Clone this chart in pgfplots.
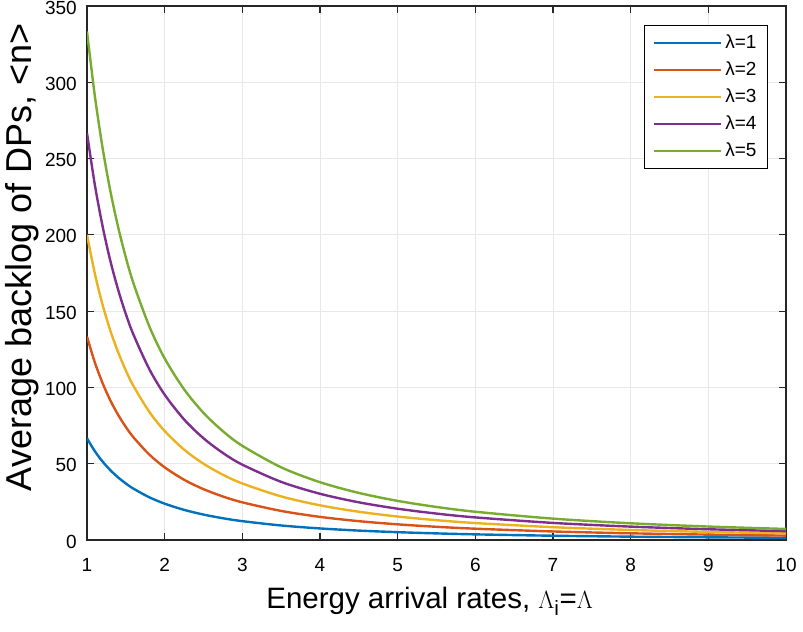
\documentclass[border=0pt]{standalone}
\usepackage{fontspec}
\setmainfont{Liberation Sans}
\usepackage{pgfplots}
\pgfplotsset{compat=1.18}
\usepackage{pgfplotstable}
\definecolor{c1}{rgb}{0,0.447,0.741}
\definecolor{c2}{rgb}{0.85,0.325,0.098}
\definecolor{c3}{rgb}{0.929,0.694,0.125}
\definecolor{c4}{rgb}{0.494,0.184,0.556}
\definecolor{c5}{rgb}{0.466,0.674,0.188}
\pgfplotstableread{
x y1 y2 y3 y4 y5
1 66.67 133.3 200.0 266.7 333.3
1.1 58.27 116.5 174.8 233.1 291.4
1.2 51.44 102.9 154.3 205.8 257.2
1.3 45.78 91.56 137.3 183.1 228.9
1.4 41.05 82.10 123.2 164.2 205.3
1.5 37.04 74.07 111.1 148.1 185.2
1.6 33.60 67.20 100.8 134.4 168.0
1.8 28.06 56.12 84.17 112.2 140.3
2 23.81 47.62 71.43 95.24 119.0
2.25 19.75 39.50 59.26 79.01 98.77
2.5 16.67 33.33 50.00 66.67 83.33
2.75 14.26 28.52 42.78 57.04 71.30
3 12.35 24.69 37.04 49.38 61.73
3.5 9.52 19.05 28.57 38.10 47.62
4 7.58 15.15 22.73 30.30 37.88
4.5 6.17 12.35 18.52 24.69 30.86
5 5.13 10.26 15.38 20.51 25.64
5.5 4.33 8.66 12.99 17.32 21.65
6 3.70 7.41 11.11 14.81 18.52
7 2.80 5.60 8.40 11.20 14.01
8 2.19 4.39 6.58 8.77 10.96
9 1.76 3.53 5.29 7.05 8.82
10 1.45 2.90 4.35 5.80 7.25
}\datatable
\begin{document}
\begin{tikzpicture}
\begin{axis}[
  name=ax,
  scale only axis, width=699pt, height=534pt,
  xmin=1, xmax=10, ymin=0, ymax=350,
  xtick={1,2,...,10}, ytick={0,50,...,350},
  grid=major, grid style={black!9, line width=1pt},
  axis line style={black!85, line width=1.1pt},
  tick style={black!85, line width=1.1pt},
  tick align=inside, major tick length=7pt,
  /pgf/number format/assume math mode=true,
  ticklabel style={font=\fontsize{19}{19}\selectfont, inner sep=0pt},
  xticklabel style={anchor=north, yshift=-18pt},
  yticklabel style={anchor=east, xshift=-10pt, yshift=-1.5pt},
  xlabel={Energy arrival rates, $\Lambda_{\mathrm{i}}$=$\Lambda$},
  ylabel={Average backlog of DPs, <n>},
  xlabel style={font=\fontsize{29.5}{29.5}\selectfont, inner sep=0pt,
    at={(axis description cs:0.49,-0.129)}, anchor=base},
  ylabel style={font=\fontsize{36}{36}\selectfont, inner sep=0pt,
    at={(axis description cs:-0.080,0.529)}, anchor=base},
  legend style={at={(axis description cs:0.9742,0.9644)}, anchor=north east,
    draw=black, line width=1pt, font=\fontsize{19}{19}\selectfont,
    nodes={text height=14pt, text depth=4pt, inner sep=3pt},
    inner xsep=8pt, inner ysep=5.5pt, row sep=3pt},
  legend cell align=left,
  legend image code/.code={\draw[#1, line width=2.6pt] (0pt,0pt) -- (67pt,0pt);},
]
\addplot[c1, line width=2.4pt, smooth] table[x=x,y=y1] {\datatable};
\addplot[c2, line width=2.4pt, smooth] table[x=x,y=y2] {\datatable};
\addplot[c3, line width=2.4pt, smooth] table[x=x,y=y3] {\datatable};
\addplot[c4, line width=2.4pt, smooth] table[x=x,y=y4] {\datatable};
\addplot[c5, line width=2.4pt, smooth] table[x=x,y=y5] {\datatable};
\legend{λ=1,λ=2,λ=3,λ=4,λ=5}
\end{axis}
\pgfresetboundingbox
\path ([xshift=-87pt,yshift=-91pt]ax.south west) rectangle ([xshift=17pt,yshift=6pt]ax.north east);
\end{tikzpicture}
\end{document}
